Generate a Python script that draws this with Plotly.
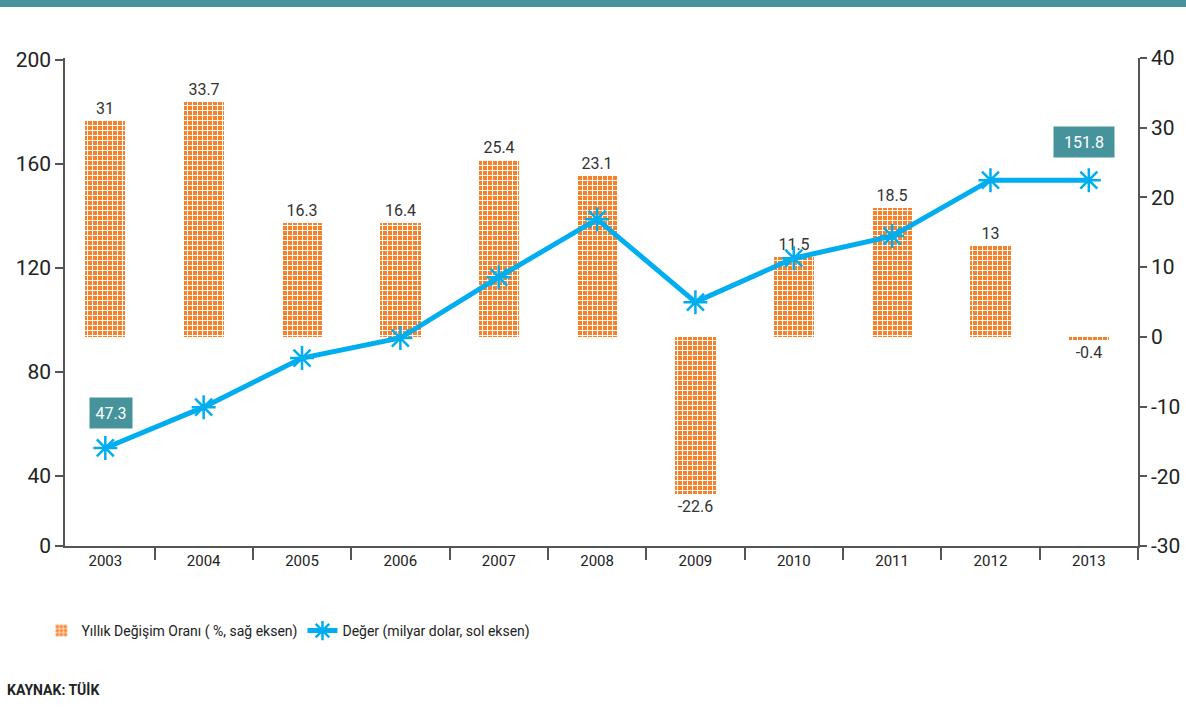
import plotly.graph_objects as go

years = ["2003", "2004", "2005", "2006", "2007", "2008", "2009", "2010", "2011", "2012", "2013"]
change_pct = [31, 33.7, 16.3, 16.4, 25.4, 23.1, -22.6, 11.5, 18.5, 13, -0.4]
value_bn = [50.8, 66.5, 85.4, 93.1, 116.5, 138.8, 106.9, 123.8, 132.3, 153.8, 153.8]
boxed_labels = {"2003": "47.3", "2013": "151.8"}

left_tickvals = [13.1, 40, 80, 120, 160, 200]
left_ticktext = ["0", "40", "80", "120", "160", "200"]
right_tickvals = [-30, -20, -10, 0, 10, 20, 30, 40]
right_ticktext = ["-30", "-20", "-10", "0", "10", "20", "30", "40"]

FONT = "Roboto"
ORANGE = "#F5822A"
BLUE = "#00AEEF"
TEAL = "#46939C"
AXIS = "#555555"

W, H = 1186, 707
ML, MR, MT, MB = 65, 48, 58, 161
plot_w = W - ML - MR
plot_h = H - MT - MB

fig = go.Figure()

# bars on the right-hand axis (primary, drawn first), line on the left-hand axis (overlay, on top)
fig.add_trace(go.Bar(
    x=years, y=change_pct, yaxis="y", name="Yıllık Değişim Oranı ( %, sağ eksen)",
    width=0.41, text=[str(v) for v in change_pct], textposition="outside",
    textfont=dict(size=16, color="#333333", family=FONT), cliponaxis=False,
    marker=dict(color=ORANGE, line=dict(width=0),
                pattern=dict(shape="+", size=5, solidity=0.35, fgcolor="white",
                             bgcolor=ORANGE, fillmode="replace")),
))

fig.add_trace(go.Scatter(
    x=years, y=value_bn, yaxis="y2", name="Değer (milyar dolar, sol eksen)",
    mode="lines+markers", line=dict(color=BLUE, width=5),
    marker=dict(symbol="asterisk-open", size=20, color=BLUE, line=dict(color=BLUE, width=2.5)),
    cliponaxis=False,
))

for yr, txt in boxed_labels.items():
    i = years.index(yr)
    fig.add_annotation(x=i, y=value_bn[i], xref="x", yref="y2", text=txt, showarrow=False,
                       yshift=35 if i == 0 else 38, xshift=6 if i == 0 else -5, bgcolor=TEAL,
                       font=dict(color="white", size=16, family=FONT),
                       width=40 if len(txt) < 5 else 58, height=28)

fig.add_annotation(x=(5 - ML) / plot_w, y=-(690 - (H - MB)) / plot_h,
                   xref="paper", yref="paper", text="<b>KAYNAK: TÜİK</b>", showarrow=False,
                   xanchor="left", yanchor="middle", font=dict(size=14, color="#222222", family=FONT))

# teal stripe at the top
top = 1 + MT / plot_h
fig.add_shape(type="rect", xref="paper", yref="paper", x0=-ML / plot_w, x1=1 + MR / plot_w,
              y0=top - 7 / plot_h, y1=top, fillcolor=TEAL, line=dict(width=0), layer="above")

fig.update_layout(
    width=W, height=H, margin=dict(l=ML, r=MR, t=MT, b=MB, autoexpand=False),
    plot_bgcolor="white", paper_bgcolor="white",
    font=dict(family=FONT, color="#222222"),
    showlegend=True, bargap=0,
    legend=dict(orientation="h", x=-0.022, xanchor="left", y=-(631 - (H - MB)) / plot_h, yanchor="middle",
                font=dict(size=14, color="#222222"), itemwidth=30, traceorder="normal"),
    xaxis=dict(type="category", range=[-0.41, 10.5], showgrid=False, showline=True,
               linecolor=AXIS, linewidth=1.5, ticks="outside", tickson="boundaries",
               ticklen=12, tickcolor=AXIS, tickwidth=1.5, tickfont=dict(size=15, color="#222222")),
    yaxis=dict(range=[-30, 40], tickvals=right_tickvals, ticktext=right_ticktext, side="right",
               showgrid=False, zeroline=False, showline=True, linecolor=AXIS, linewidth=1.5,
               ticks="outside", ticklen=7, tickcolor=AXIS, tickwidth=1.5, ticklabelstandoff=0,
               tickfont=dict(size=21, color="#222222")),
    yaxis2=dict(range=[13.1, 200.8], tickvals=left_tickvals, ticktext=left_ticktext,
                overlaying="y", side="left",
                showgrid=False, zeroline=False, showline=True, linecolor=AXIS, linewidth=1.5,
                ticks="outside", ticklen=8, tickcolor=AXIS, tickwidth=1.5, ticklabelstandoff=0,
                tickfont=dict(size=21, color="#222222")),
)

fig.write_html("out.html", config={"displayModeBar": False},
               post_script="document.body.style.margin = '0';")
